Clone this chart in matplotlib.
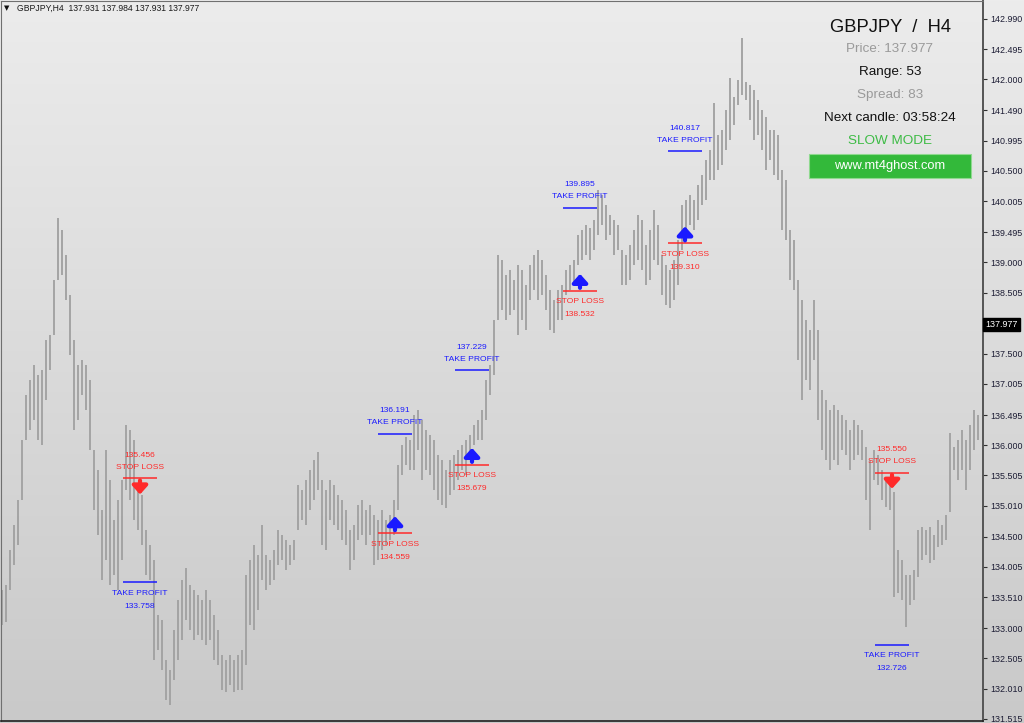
import numpy as np
import matplotlib
matplotlib.use("Agg")
import matplotlib.pyplot as plt
from matplotlib.patches import Rectangle
from matplotlib.transforms import blended_transform_factory

# ---------------- data ----------------
symbol = "GBPJPY"
timeframe = "H4"
header_values = ["137.931", "137.984", "137.931", "137.977"]
last_price = 137.977

bar_high = [133.63, 133.71, 134.28, 134.69, 135.10, 136.09, 136.82, 137.07, 137.32, 137.15,
            137.23, 137.73, 137.81, 138.71, 139.73, 139.53, 139.12, 138.46, 137.73, 137.32,
            137.40, 137.32, 137.07, 135.92, 135.60, 134.94, 135.92, 135.43, 134.78, 135.10,
            135.43, 136.33, 136.25, 136.09, 135.27, 135.19, 134.61, 134.37, 134.12, 133.22,
            133.14, 132.48, 132.32, 132.97, 133.46, 133.79, 133.99, 133.71, 133.63, 133.55,
            133.46, 133.63, 133.46, 133.22, 132.97, 132.56, 132.48, 132.56, 132.48, 132.56,
            132.64, 133.87, 134.12, 134.37, 134.20, 134.69, 134.20, 134.12, 134.28, 134.61,
            134.53, 134.45, 134.37, 134.45, 135.35, 135.27, 135.43, 135.60, 135.76, 135.89,
            135.43, 135.27, 135.43, 135.35, 135.19, 135.10, 134.94, 134.61, 134.69, 135.02,
            135.10, 134.94, 135.02, 134.86, 134.78, 134.94, 134.78, 134.86, 135.10, 135.68,
            136.00, 136.14, 136.09, 136.50, 136.58, 136.41, 136.25, 136.17, 136.09, 135.84,
            135.76, 135.60, 135.76, 135.84, 135.92, 136.00, 136.09, 136.17, 136.33, 136.41,
            136.58, 137.07, 137.32, 138.05, 139.12, 139.04, 138.79, 138.87, 138.71, 138.96,
            138.87, 138.63, 138.96, 139.12, 139.20, 139.04, 138.79, 138.55, 138.38, 138.55,
            138.63, 138.87, 138.96, 139.04, 139.45, 139.53, 139.61, 139.56, 139.69, 140.19,
            140.10, 139.94, 139.78, 139.69, 139.61, 139.20, 139.12, 139.28, 139.53, 139.78,
            139.69, 139.28, 139.53, 139.86, 139.61, 139.12, 138.96, 138.87, 139.04, 139.37,
            139.94, 140.02, 140.10, 140.02, 140.27, 140.43, 140.68, 140.84, 141.61, 141.09,
            141.17, 141.50, 142.02, 141.71, 141.99, 142.68, 141.96, 141.91, 141.82, 141.66,
            141.50, 141.38, 141.17, 141.17, 141.09, 140.51, 140.35, 139.53, 139.37, 138.71,
            138.38, 138.05, 137.89, 138.38, 137.89, 136.91, 136.74, 136.58, 136.66, 136.58,
            136.50, 136.41, 136.25, 136.41, 136.33, 136.25, 135.97, 135.76, 135.92, 135.84,
            135.60, 135.43, 135.35, 135.23, 134.28, 134.12, 133.87, 133.87, 133.96, 134.61,
            134.66, 134.61, 134.66, 134.53, 134.78, 134.69, 134.86, 136.20, 135.97, 136.09,
            136.25, 136.09, 136.33, 136.58, 136.50]

bar_low = [133.05, 133.10, 133.63, 134.04, 134.37, 135.10, 136.09, 136.25, 136.41, 136.09,
           136.00, 136.74, 137.23, 137.81, 138.71, 138.79, 138.38, 137.48, 136.25, 136.41,
           136.82, 136.58, 135.92, 134.94, 134.53, 133.79, 134.12, 133.71, 133.87, 133.63,
           134.12, 135.27, 135.10, 134.78, 134.61, 134.37, 133.87, 133.79, 132.48, 132.64,
           132.32, 131.82, 131.74, 132.15, 132.48, 132.81, 133.14, 132.97, 132.81, 132.89,
           132.81, 132.73, 132.81, 132.48, 132.40, 131.99, 131.96, 132.07, 131.96, 131.99,
           131.99, 132.40, 133.05, 132.97, 133.30, 133.79, 133.63, 133.71, 133.79, 134.04,
           134.12, 133.96, 134.04, 134.12, 134.61, 134.78, 134.69, 134.94, 135.10, 135.27,
           134.37, 134.28, 134.78, 134.69, 134.61, 134.45, 134.37, 133.96, 134.12, 134.45,
           134.53, 134.37, 134.53, 134.04, 134.12, 134.28, 134.37, 134.45, 134.53, 134.94,
           135.51, 135.68, 135.60, 135.60, 135.92, 135.43, 135.60, 135.51, 135.27, 135.10,
           135.02, 134.97, 135.19, 135.27, 135.43, 135.60, 135.51, 135.76, 136.00, 136.09,
           136.09, 136.41, 136.82, 137.15, 138.05, 138.22, 138.05, 138.14, 138.22, 137.81,
           138.05, 137.89, 138.38, 138.55, 138.38, 138.46, 138.22, 137.89, 137.84, 138.05,
           138.05, 138.46, 138.55, 138.63, 138.96, 139.04, 139.12, 139.04, 139.20, 139.45,
           139.61, 139.37, 139.45, 139.12, 139.20, 138.63, 138.63, 138.71, 138.96, 139.04,
           138.87, 138.63, 138.71, 139.04, 138.96, 138.46, 138.30, 138.25, 138.38, 138.63,
           139.20, 139.45, 139.61, 139.53, 139.69, 139.94, 140.02, 140.35, 140.35, 140.51,
           140.60, 140.84, 141.00, 141.25, 141.58, 141.74, 141.66, 141.33, 141.00, 141.09,
           140.84, 140.51, 140.68, 140.43, 140.35, 139.53, 139.37, 138.71, 138.55, 137.40,
           136.74, 137.07, 136.91, 137.40, 136.41, 135.92, 135.76, 135.60, 135.76, 135.68,
           135.92, 135.84, 135.60, 135.76, 135.84, 135.76, 135.10, 134.61, 135.43, 135.35,
           135.10, 134.99, 134.94, 133.51, 133.58, 133.46, 133.02, 133.38, 133.46, 133.84,
           134.12, 134.20, 134.07, 134.12, 134.33, 134.37, 134.45, 134.90, 135.60, 135.43,
           135.60, 135.27, 135.60, 135.92, 136.09]

# signals: bar position, direction, stop loss, take profit
signal_bar = [34.5, 98.25, 117.5, 144.5, 170.75, 222.5]
signal_dir = ["sell", "buy", "buy", "buy", "buy", "sell"]
signal_sl = [135.456, 134.559, 135.679, 138.532, 139.310, 135.550]
signal_tp = [133.758, 136.191, 137.229, 139.895, 140.817, 132.726]

price_ticks = [142.990, 142.495, 142.000, 141.490, 140.995, 140.500, 140.005, 139.495,
               139.000, 138.505, 137.500, 137.005, 136.495, 136.000, 135.505, 135.010,
               134.500, 134.005, 133.510, 133.000, 132.505, 132.010, 131.515]

panel_price = "137.977"
panel_range = "53"
panel_spread = "83"
panel_next = "03:58:24"
panel_mode = "SLOW MODE"
panel_site = "www.mt4ghost.com"

# ---------------- figure ----------------
W, H = 1024, 723
fig = plt.figure(figsize=(W / 100, H / 100), dpi=100)

# background gradient over the whole figure
bg = fig.add_axes([0, 0, 1, 1], zorder=-5)
grad = np.linspace(0, 1, 256).reshape(-1, 1)
top = np.array([236, 236, 236]) / 255
bot = np.array([201, 201, 201]) / 255
img = top[None, None, :] * (1 - grad[:, :, None]) + bot[None, None, :] * grad[:, :, None]
bg.imshow(img, aspect="auto", extent=[0, 1, 0, 1], origin="upper")
bg.set_axis_off()

def fx(px):
    return px / W

def fy(py):
    return 1 - py / H

ax = fig.add_axes([fx(1), fy(721), fx(983) - fx(1), fy(1) - fy(721)])
ax.set_facecolor("none")

x = np.arange(len(bar_high))
ax.vlines(x, bar_low, bar_high, color="#a2a2a2", lw=1.35, zorder=2)

ax.set_xlim(-0.25, 245.25)
ax.set_ylim(131.48, 143.284)

# axis styling
for s in ["left", "top"]:
    ax.spines[s].set_color("#707070")
    ax.spines[s].set_linewidth(0.8)
ax.spines["bottom"].set_color("#202020")
ax.spines["bottom"].set_linewidth(1.2)
ax.spines["right"].set_color("#555555")
ax.spines["right"].set_linewidth(1.4)
ax.set_xticks([])
ax.yaxis.tick_right()
ax.set_yticks(price_ticks)
ax.set_yticklabels([f"{v:.3f}" for v in price_ticks])
ax.tick_params(axis="y", direction="out", length=3, width=0.8, color="#303030",
               labelsize=6.4, labelcolor="#1c1c34", pad=2)
for lab in ax.get_yticklabels():
    lab.set_family("Liberation Sans")

# current price marker
tr = blended_transform_factory(ax.transAxes, ax.transData)
ax.text(1.0025, last_price, f"{last_price:.3f}", transform=tr, ha="left", va="center",
        fontsize=6.4, family="Liberation Sans", color="white", clip_on=False,
        bbox=dict(boxstyle="square,pad=0.22", fc="black", ec="black"))

# signals
red = "#ff2a2a"
blue = "#1a1aff"
half = 4.25
fs = 6.1
pu = (143.284 - 131.48) / 720.0  # price per pixel
arrow_style = "-|>,head_length=0.5,head_width=0.45"
for b, d, sl, tp in zip(signal_bar, signal_dir, signal_sl, signal_tp):
    ax.hlines(sl, b - half, b + half, color=red, lw=1.1, zorder=3)
    ax.hlines(tp, b - half, b + half, color=blue, lw=1.1, zorder=3)
    if d == "buy":
        ax.text(b, sl - 11 * pu, "STOP LOSS", color=red, ha="center", va="center",
                fontsize=fs, family="Liberation Sans")
        ax.text(b, sl - 24 * pu, f"{sl:.3f}", color=red, ha="center", va="center",
                fontsize=fs, family="Liberation Sans")
        ax.text(b, tp + 23 * pu, f"{tp:.3f}", color=blue, ha="center", va="center",
                fontsize=fs, family="Liberation Sans")
        ax.text(b, tp + 11 * pu, "TAKE PROFIT", color=blue, ha="center", va="center",
                fontsize=fs, family="Liberation Sans")
        ax.annotate("", xy=(b, sl + 17 * pu), xytext=(b, sl + 3 * pu),
                    arrowprops=dict(arrowstyle=arrow_style,
                                    color=blue, lw=3.0, shrinkA=0, shrinkB=0), zorder=4)
    else:
        ax.text(b, sl + 23 * pu, f"{sl:.3f}", color=red, ha="center", va="center",
                fontsize=fs, family="Liberation Sans")
        ax.text(b, sl + 11 * pu, "STOP LOSS", color=red, ha="center", va="center",
                fontsize=fs, family="Liberation Sans")
        ax.text(b, tp - 11 * pu, "TAKE PROFIT", color=blue, ha="center", va="center",
                fontsize=fs, family="Liberation Sans")
        ax.text(b, tp - 24 * pu, f"{tp:.3f}", color=blue, ha="center", va="center",
                fontsize=fs, family="Liberation Sans")
        ax.annotate("", xy=(b, sl - 16 * pu), xytext=(b, sl - 2 * pu),
                    arrowprops=dict(arrowstyle=arrow_style,
                                    color=red, lw=3.0, shrinkA=0, shrinkB=0), zorder=4)

# header
fig.text(fx(4), fy(8.5), "\u25BC", fontsize=5, color="#101010", ha="left", va="center",
         family="DejaVu Sans")
fig.text(fx(17), fy(8.5), f"{symbol},{timeframe}  " + " ".join(header_values),
         fontsize=6.2, color="#1a1a1a", ha="left", va="center", family="Liberation Sans")

# info panel
cx = fx(890)
fig.text(cx, fy(27), f"{symbol}  /  {timeframe}", fontsize=13.2, color="#111111",
         ha="center", va="center", family="Liberation Sans")
fig.text(cx, fy(49), f"Price: {panel_price}", fontsize=9.7, color="#9a9a9a",
         ha="center", va="center", family="Liberation Sans")
fig.text(cx, fy(72), f"Range: {panel_range}", fontsize=9.7, color="#111111",
         ha="center", va="center", family="Liberation Sans")
fig.text(cx, fy(95), f"Spread: {panel_spread}", fontsize=9.7, color="#9a9a9a",
         ha="center", va="center", family="Liberation Sans")
fig.text(cx, fy(118), f"Next candle: {panel_next}", fontsize=9.7, color="#111111",
         ha="center", va="center", family="Liberation Sans")
fig.text(cx, fy(141), panel_mode, fontsize=9.7, color="#3dbb45",
         ha="center", va="center", family="Liberation Sans")
fig.patches.append(Rectangle((fx(809), fy(178)), fx(971) - fx(809), fy(154) - fy(178),
                             transform=fig.transFigure, fc="#33b93a", ec="#8fd98f", lw=0.8,
                             zorder=3))
fig.text(cx, fy(165.5), panel_site, fontsize=9.3, color="white",
         ha="center", va="center", family="Liberation Sans", zorder=4)

fig.savefig("out.png", dpi=100)
